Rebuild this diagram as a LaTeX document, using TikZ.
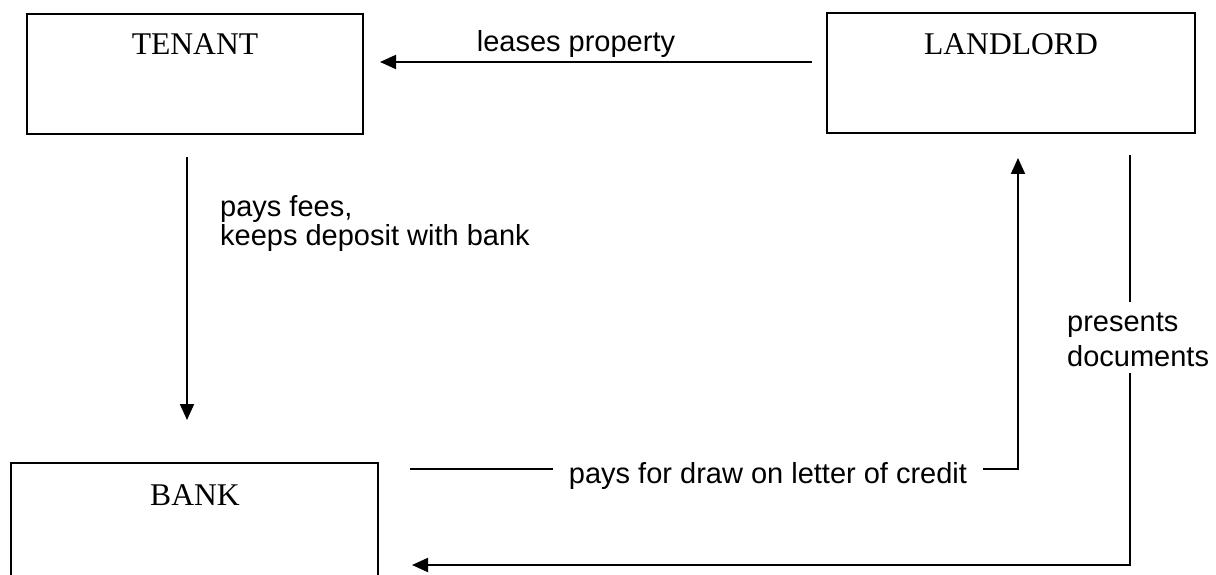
\documentclass[tikz,border=0pt]{standalone}
\usepackage{fontspec}
\setmainfont{Liberation Serif}
\newfontfamily\arialf{Liberation Sans}
\usetikzlibrary{arrows.meta}
\begin{document}
\begin{tikzpicture}[x=1pt,y=-1pt,
  box/.style={draw, line width=1.9pt, rectangle, inner sep=0pt},
  title/.style={font=\fontsize{31.6}{36}\selectfont, anchor=base, inner sep=0pt},
  lbl/.style={font=\arialf\fontsize{29}{29}\selectfont, inner sep=0pt},
  conn/.style={line width=1.9pt},
  arr/.style={conn, -{Triangle[length=16pt,width=14pt]}}
]
\useasboundingbox (0,0) rectangle (1216,575);
\clip (0,0) rectangle (1216,575);

% boxes
\node[box, minimum width=336pt, minimum height=120pt] (tenant) at (195,74) {};
\node[title] (tenantt) at (195,55) {TENANT};
\node[box, minimum width=368pt, minimum height=120pt] (landlord) at (1011,73) {};
\node[title] (landlordt) at (1011,55) {LANDLORD};
\node[box, minimum width=367pt, minimum height=160pt] (bank) at (194.5,543) {};
\node[title] (bankt) at (195,505) {BANK};

% leases property
\coordinate (lpa) at (812,62);
\coordinate (lpb) at (380,62);
\draw[arr] (lpa) -- (lpb);
\node[lbl, anchor=base] (leases) at (576,52) {leases property};

% pays fees
\coordinate (tda) at (187,157);
\coordinate (tdb) at (187,420);
\draw[arr] (tda) -- (tdb);
\node[lbl, align=left, anchor=north west] (fees) at (220,195) {pays fees,\\keeps deposit with bank};

% pays for draw
\node[lbl, anchor=base, inner xsep=16pt] (drawl) at (768,483) {pays for draw on letter of credit};
\coordinate (pda) at (410,469);
\coordinate (pdb) at (1018,469);
\coordinate (pdc) at (1018,158);
\draw[conn] (pda) -- (pda -| drawl.west);
\draw[arr] (pda -| drawl.east) -- (pdb) -- (pdc);

% presents documents
\node[lbl, align=left, anchor=north west, font=\arialf\fontsize{29}{35}\selectfont] (pres) at (1067,313) {presents\\documents};
\coordinate (pra) at (1130,155);
\coordinate (prb) at (1130,302);
\coordinate (prc) at (1130,373);
\coordinate (prd) at (1130,565);
\coordinate (pre) at (412,565);
\draw[conn] (pra) -- (prb);
\draw[arr] (prc) -- (prd) -- (pre);
\end{tikzpicture}
\end{document}
